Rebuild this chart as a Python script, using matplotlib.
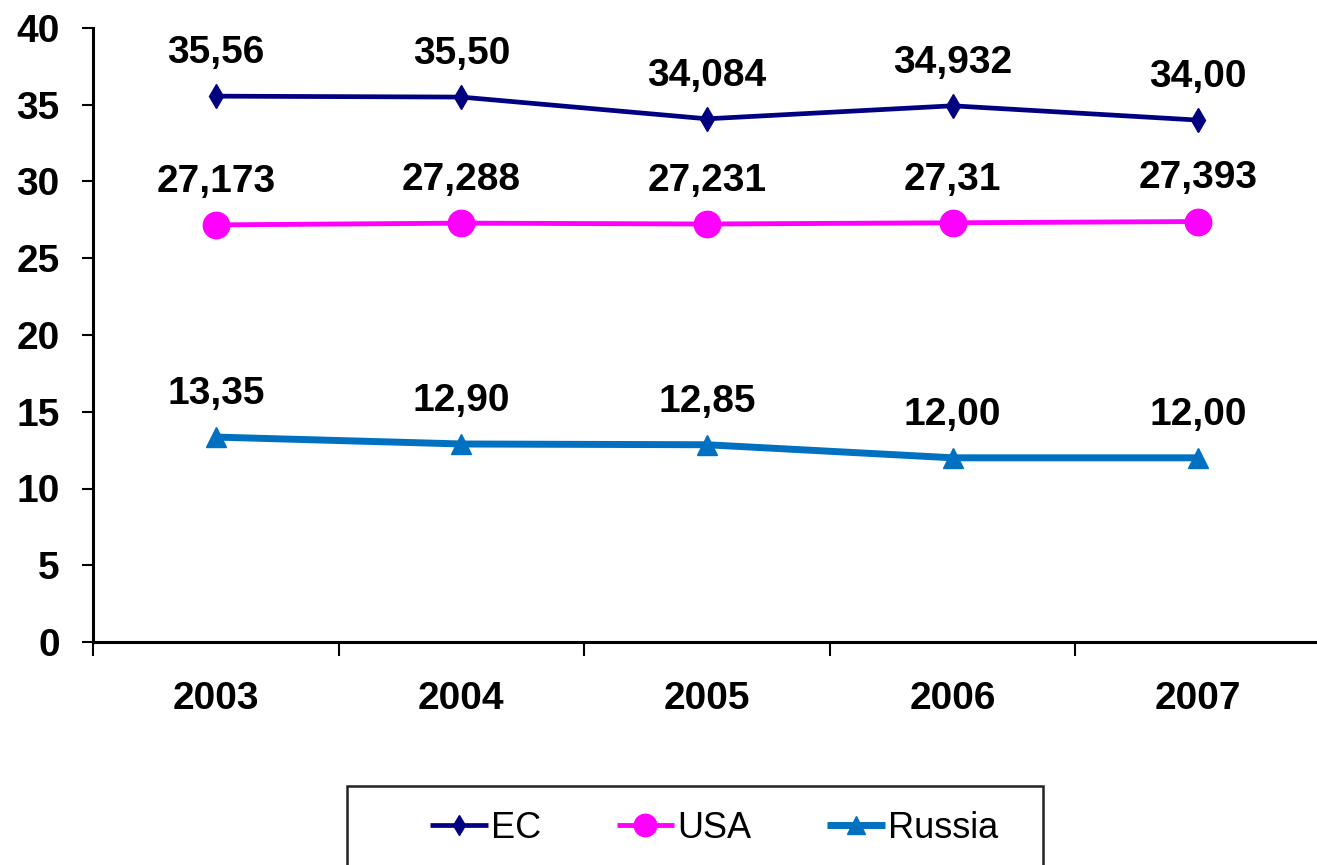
import matplotlib
matplotlib.use("Agg")
import matplotlib.pyplot as plt
from matplotlib.patches import Rectangle

years = ["2003", "2004", "2005", "2006", "2007"]
ec = [35.56, 35.50, 34.084, 34.932, 34.00]
usa = [27.173, 27.288, 27.231, 27.31, 27.393]
russia = [13.35, 12.90, 12.85, 12.00, 12.00]
ec_labels = ["35,56", "35,50", "34,084", "34,932", "34,00"]
usa_labels = ["27,173", "27,288", "27,231", "27,31", "27,393"]
russia_labels = ["13,35", "12,90", "12,85", "12,00", "12,00"]
y_ticks = [0, 5, 10, 15, 20, 25, 30, 35, 40]

plt.rcParams['font.family'] = ['Liberation Sans', 'DejaVu Sans']

W, H = 1317, 865
fig = plt.figure(figsize=(W / 100, H / 100), dpi=100)
ax = fig.add_axes([93 / W, 1 - 642 / H, (1321 - 93) / W, (642 - 28) / H])

x = list(range(len(years)))
series = [
    ("EC", ec, ec_labels, dict(color="#000080", lw=3.4, marker="d", ms=12)),
    ("USA", usa, usa_labels, dict(color="#FF00FF", lw=3.5, marker="o", ms=19)),
    ("Russia", russia, russia_labels, dict(color="#0070C0", lw=5, marker="^", ms=15)),
]
for name, vals, labs, st in series:
    ax.plot(x, vals, label=name, color=st["color"], lw=st["lw"], marker=st["marker"],
            ms=st["ms"], markeredgecolor=st["color"], markerfacecolor=st["color"],
            solid_capstyle="butt")
    for xi, v, lab in zip(x, vals, labs):
        ax.annotate(lab, (xi, v), xytext=(0, 31), textcoords="offset points",
                    ha="center", va="center", fontsize=28, fontweight="bold")

ax.set_xlim(-0.5, len(years) - 0.5)
ax.set_ylim(0, 40)
ax.set_yticks(y_ticks)
ax.set_yticklabels([str(t) for t in y_ticks])
ax.set_xticks(x)
ax.set_xticklabels(years)
ax.set_xticks([i - 0.5 for i in range(len(years) + 1)], minor=True)
ax.tick_params(axis="x", which="major", length=0, pad=28, labelsize=28)
ax.tick_params(axis="x", which="minor", length=10, width=1.5, direction="out")
ax.tick_params(axis="y", length=8, width=1.5, direction="out", pad=16, labelsize=28)
for lab in ax.get_xticklabels() + ax.get_yticklabels():
    lab.set_fontweight("bold")

for s in ["top", "right"]:
    ax.spines[s].set_visible(False)
for s in ["left", "bottom"]:
    ax.spines[s].set_linewidth(2.2)
    ax.spines[s].set_color("black")

# Legend box
fig.patches.append(Rectangle((347 / W, -0.05), (1043 - 347) / W, 0.05 + 1 - 786 / H,
                             transform=fig.transFigure, fill=False, edgecolor="#222222",
                             linewidth=1.8))
fig.legend(loc="center", bbox_to_anchor=(714 / W, 1 - 828 / H), ncol=3, frameon=False,
           fontsize=26, handlelength=1.6, handletextpad=0.08, columnspacing=2.1,
           borderaxespad=0, markerscale=0.85)

fig.savefig("out.png", dpi=100)
